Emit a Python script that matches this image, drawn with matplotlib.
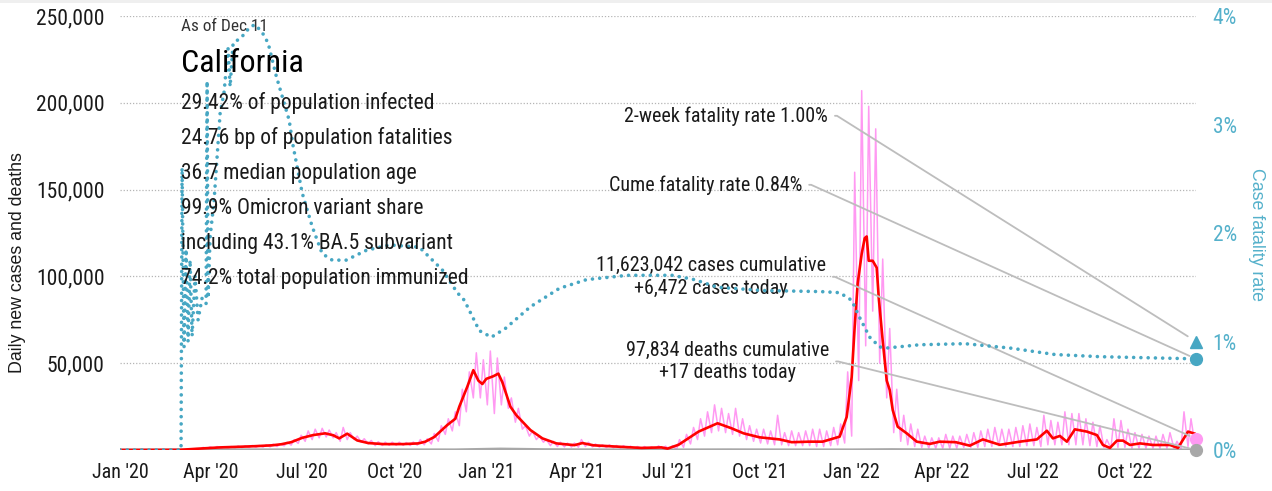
import matplotlib
matplotlib.use("Agg")

import matplotlib.pyplot as plt
import matplotlib.dates as mdates
import pandas as pd
from matplotlib import font_manager
from matplotlib.patches import Rectangle
from matplotlib.ticker import FuncFormatter, MultipleLocator


# ----------------------------
# Data
# ----------------------------
START_DATE = "2020-01-01"
END_DATE = "2022-12-11"

# 7-day average of new cases, thousands
AVG_DATES = [
    "2020-01-01", "2020-03-01", "2020-03-20", "2020-04-10", "2020-05-01", "2020-05-15",
    "2020-06-01", "2020-06-10", "2020-06-20", "2020-07-01", "2020-07-12", "2020-07-24",
    "2020-08-01", "2020-08-07", "2020-08-15", "2020-08-25", "2020-09-05", "2020-09-20",
    "2020-10-10", "2020-10-25", "2020-11-01", "2020-11-10", "2020-11-23", "2020-12-01",
    "2020-12-05", "2020-12-13", "2020-12-19", "2020-12-24", "2020-12-28", "2021-01-01",
    "2021-01-08", "2021-01-13", "2021-01-17", "2021-01-25", "2021-01-31", "2021-02-14",
    "2021-02-26", "2021-03-12", "2021-03-30", "2021-04-07", "2021-04-18", "2021-05-10",
    "2021-06-05", "2021-06-25", "2021-07-01", "2021-07-12", "2021-08-01", "2021-08-20",
    "2021-09-03", "2021-09-15", "2021-10-01", "2021-10-21", "2021-11-02", "2021-11-20",
    "2021-12-03", "2021-12-20", "2021-12-27", "2022-01-01", "2022-01-04", "2022-01-07",
    "2022-01-11", "2022-01-14", "2022-01-16", "2022-01-18", "2022-01-22", "2022-01-26",
    "2022-01-28", "2022-02-01", "2022-02-05", "2022-02-08", "2022-02-11", "2022-02-16",
    "2022-02-25", "2022-03-07", "2022-03-20", "2022-03-30", "2022-04-15", "2022-04-29",
    "2022-05-12", "2022-05-29", "2022-06-18", "2022-07-05", "2022-07-15", "2022-07-21",
    "2022-07-28", "2022-08-04", "2022-08-12", "2022-08-24", "2022-09-03", "2022-09-09",
    "2022-09-16", "2022-09-23", "2022-09-29", "2022-10-06", "2022-10-16", "2022-10-29",
    "2022-11-15", "2022-11-23", "2022-12-03", "2022-12-11",
]
AVG_CASES_K = [
    0.0, 0.1, 0.8, 1.5, 1.9, 2.2,
    2.7, 3.3, 4.5, 7.0, 8.6, 9.6,
    8.5, 6.7, 9.4, 5.5, 4.0, 3.4,
    3.4, 3.8, 4.8, 7.5, 14.4, 18.0,
    25.0, 36.5, 46.0, 40.0, 38.0, 41.0,
    42.5, 44.0, 39.0, 25.0, 20.0, 11.5,
    6.7, 3.8, 2.8, 4.0, 2.7, 2.0,
    1.2, 1.5, 0.8, 3.0, 10.6, 15.4,
    12.5, 9.6, 7.3, 6.1, 4.5, 4.8,
    4.8, 7.7, 19.0, 42.0, 71.0, 96.0,
    113.0, 122.0, 123.0, 109.0, 109.0, 105.0,
    88.0, 63.0, 40.0, 34.6, 23.0, 13.4,
    9.6, 4.8, 3.5, 4.8, 4.5, 2.5,
    6.1, 3.0, 4.8, 6.1, 11.1, 6.7,
    8.1, 4.8, 11.9, 10.6, 8.6, 2.9,
    1.2, 5.4, 5.4, 2.9, 3.8, 2.9,
    2.9, 1.2, 10.6, 9.2,
]

# daily new cases, weekly reporting swing (thousands), one value per week from 2020-03-02
DAILY_WEEK_START = "2020-03-02"
DAILY_HIGH_K = [
    0.1, 0.3, 0.8, 1.5, 1.8,            # Mar 2020
    2.0, 1.9, 2.0, 2.3,                 # Apr
    2.4, 2.6, 2.6, 3.0,                 # May
    3.4, 3.6, 4.5, 6.0, 8.5,            # Jun
    11, 12, 12.5, 11.5,                 # Jul
    10, 13, 10, 8, 6.5,                 # Aug
    5.5, 4.8, 4.5, 4.5,                 # Sep
    4.5, 4.3, 4.6, 6.0,                 # Oct
    6.5, 9.5, 14, 18, 22,               # Nov
    35, 45, 56, 52,                     # Dec
    57, 53, 42, 30,                     # Jan 2021
    24, 14, 11, 8,                      # Feb
    6, 5, 4.5, 4, 4,                    # Mar
    6, 4.5, 3.5, 3,                     # Apr
    3, 2.6, 2.5, 2.2, 2,                # May
    2, 1.8, 2.4, 2.2,                   # Jun
    2.5, 6, 9, 13,                      # Jul
    18, 22, 26, 24, 21,                 # Aug
    24, 18, 14, 12,                     # Sep
    12, 11, 20, 10,                     # Oct
    11, 10, 11, 12, 12,                 # Nov
    11, 13, 15, 45,                     # Dec
    160, 207, 198, 185, 110,            # Jan 2022
    70, 35, 20, 15,                     # Feb
    12, 8, 7, 7,                        # Mar
    9, 8, 8, 9,                         # Apr
    10, 11, 12, 13, 12,                 # May
    12, 13, 14, 15,                     # Jun
    13, 20, 17, 16,                     # Jul
    22, 21, 21, 18, 16,                 # Aug
    14, 6, 18, 17,                      # Sep
    12, 10, 9, 8, 8,                    # Oct
    9, 10, 5, 22,                       # Nov
    18,                                 # Dec
]
DAILY_LOW_K = [
    0.0, 0.1, 0.4, 0.9, 1.0,
    1.0, 1.1, 1.2, 1.3,
    1.4, 1.6, 1.7, 1.8,
    2.0, 2.4, 2.8, 3.8, 5.0,
    6, 7, 7.5, 7,
    5, 6, 6, 4.5, 3.5,
    2.5, 2.6, 2.7, 2.7,
    2.7, 2.6, 2.8, 3.0,
    3.5, 5, 9, 11, 14,
    22, 30, 30, 26,
    21, 26, 24, 16,
    12, 8, 6, 4.5,
    2.5, 2, 1.8, 1.7, 1.6,
    2, 1.8, 1.6, 1.4,
    1.2, 1.1, 1, 0.9, 0.7,
    0.6, 0.6, 0.7, 0.4,
    0.3, 1.5, 3.5, 6,
    8, 10, 11, 10, 9,
    8, 6, 5, 4,
    3.5, 3, 3, 2.5,
    2.5, 2.5, 2.5, 2, 2,
    2.5, 3, 4, 8,
    40, 60, 80, 50, 30,
    10, 5, 3, 2,
    1.5, 1, 1, 1,
    1, 1, 1.5, 1.5,
    1.5, 2, 2, 2.5, 2,
    2, 2, 2.5, 2.5,
    2, 3, 3, 3,
    3, 3, 3, 2.5, 2,
    1.5, 1, 1.5, 1.5,
    1, 1, 1, 1, 1,
    1, 1, 0.5, 2,
    3,
]
CASES_TODAY = 6472

# daily deaths
DEATH_DATES = [
    "2020-01-01", "2020-03-15", "2020-04-20", "2020-06-01", "2020-07-30", "2020-10-15",
    "2020-12-01", "2021-01-15", "2021-03-01", "2021-05-01", "2021-07-01", "2021-09-01",
    "2021-11-01", "2022-01-01", "2022-02-10", "2022-04-01", "2022-07-15", "2022-10-01",
    "2022-12-11",
]
DEATHS = [0, 5, 85, 70, 135, 60, 50, 520, 180, 40, 20, 100, 40, 40, 200, 40, 40, 35, 17]
DEATHS_TODAY = 17

# case fatality rate, percent
CFR_DATES = [
    "2020-01-01", "2020-03-02", "2020-03-03", "2020-03-05", "2020-03-07", "2020-03-09",
    "2020-03-11", "2020-03-13", "2020-03-16", "2020-03-19", "2020-03-23", "2020-03-27",
    "2020-03-28", "2020-03-29", "2020-03-31", "2020-04-04", "2020-04-10", "2020-04-14",
    "2020-04-18", "2020-04-20", "2020-04-23", "2020-05-01", "2020-05-10", "2020-05-15",
    "2020-05-22", "2020-05-28", "2020-06-05", "2020-06-18", "2020-06-22", "2020-07-01",
    "2020-07-11", "2020-07-21", "2020-07-31", "2020-08-14", "2020-09-03", "2020-09-26",
    "2020-10-26", "2020-11-18", "2020-12-03", "2020-12-10", "2020-12-25", "2021-01-06",
    "2021-01-20", "2021-02-14", "2021-03-15", "2021-04-11", "2021-05-22", "2021-07-06",
    "2021-07-28", "2021-08-20", "2021-10-04", "2021-12-01", "2021-12-20", "2022-01-01",
    "2022-01-09", "2022-01-19", "2022-01-29", "2022-02-05", "2022-03-10", "2022-04-24",
    "2022-06-08", "2022-07-23", "2022-09-06", "2022-12-11",
]
CFR_PCT = [
    0.0, 0.0, 2.6, 0.95, 1.85, 1.0,
    1.75, 1.05, 1.6, 1.2, 1.4, 1.35,
    3.4, 1.4, 1.96, 2.3, 3.1, 3.3,
    3.7, 3.35, 3.75, 3.8, 3.9, 3.92,
    3.85, 3.75, 3.45, 3.04, 2.8, 2.37,
    2.06, 1.81, 1.75, 1.75, 1.84, 1.89,
    1.87, 1.66, 1.45, 1.38, 1.1, 1.04,
    1.12, 1.32, 1.49, 1.57, 1.61, 1.61,
    1.57, 1.50, 1.47, 1.46, 1.45, 1.38,
    1.22, 1.04, 0.95, 0.94, 0.97, 0.98,
    0.94, 0.88, 0.86, 0.84,
]
TWO_WEEK_CFR = 1.00
CUME_CFR = 0.84

INFO_LINES = [
    "29.42% of population infected",
    "24.76 bp of population fatalities",
    "36.7 median population age",
    "99.9% Omicron variant share",
    "including 43.1% BA.5 subvariant",
    "74.2% total population immunized",
]

# ----------------------------
# Style
# ----------------------------
TEAL = "#47a7c3"
TEAL_TEXT = "#55b1cb"
PINK = "#ff99f2"
RED = "#ff0000"
GRAY = "#a8a8a8"
LEADER = "#bdbdbd"
INK = "#1a1a1a"


def pick_narrow_font() -> str:
    names = {f.name for f in font_manager.fontManager.ttflist}
    for name in ["Liberation Sans Narrow", "Roboto Condensed", "DejaVu Sans"]:
        if name in names:
            return name
    return "DejaVu Sans"


def main() -> None:
    narrow = pick_narrow_font()
    plt.rcParams["font.family"] = narrow
    plt.rcParams["font.stretch"] = "condensed"

    end = pd.Timestamp(END_DATE)

    # weekly swing -> zigzag for the daily series
    weeks = pd.date_range(DAILY_WEEK_START, periods=len(DAILY_HIGH_K), freq="7D")
    daily_x, daily_y = [], []
    for wk, hi, lo in zip(weeks, DAILY_HIGH_K, DAILY_LOW_K):
        daily_x += [wk + pd.Timedelta(days=1), wk + pd.Timedelta(days=5)]
        daily_y += [hi * 1000, lo * 1000]
    daily_x.append(end)
    daily_y.append(CASES_TODAY)

    avg_x = pd.to_datetime(AVG_DATES)
    avg_y = [v * 1000 for v in AVG_CASES_K]

    fig = plt.figure(figsize=(12.72, 4.91), dpi=100)
    fig.patch.set_facecolor("white")
    fig.add_artist(Rectangle((0, 1 - 3 / 491), 1, 3 / 491, transform=fig.transFigure,
                             facecolor="#efefef", edgecolor="none"))

    ax = fig.add_axes([120 / 1272, 41 / 491, 1076 / 1272, 434 / 491])
    ax2 = ax.twinx()

    ax.set_xlim(pd.Timestamp(START_DATE), end)
    ax.set_ylim(0, 250000)
    ax2.set_ylim(0, 4)

    for a in (ax, ax2):
        for sp in a.spines.values():
            sp.set_visible(False)

    ax.yaxis.set_major_locator(MultipleLocator(50000))
    ax.yaxis.set_major_formatter(FuncFormatter(lambda v, _: f"{int(v):,}" if v > 0 else ""))
    ax.grid(axis="y", color="#b5b5b5", linestyle=(0, (1, 1.5)), linewidth=0.9)
    ax.set_axisbelow(True)
    ax.tick_params(axis="y", length=0, pad=11, labelsize=15.5, labelcolor=INK)

    ax.xaxis.set_major_locator(mdates.MonthLocator(bymonth=[1, 4, 7, 10]))
    ax.xaxis.set_major_formatter(mdates.DateFormatter("%b '%y"))
    ax.tick_params(axis="x", length=0, pad=9, labelsize=14.5, labelcolor=INK)

    ax2.yaxis.set_major_locator(MultipleLocator(1))
    ax2.yaxis.set_major_formatter(FuncFormatter(lambda v, _: f"{int(v)}%"))
    ax2.tick_params(axis="y", length=0, pad=12, labelsize=15.5, labelcolor=TEAL_TEXT)

    # series
    ax.plot(daily_x, daily_y, color=PINK, lw=1.1, zorder=2)
    ax.plot(pd.to_datetime(DEATH_DATES), DEATHS, color=GRAY, lw=2.2, zorder=2)
    ax.plot(avg_x, avg_y, color=RED, lw=1.9, zorder=3)
    ax2.plot(pd.to_datetime(CFR_DATES), CFR_PCT, color=TEAL, lw=2.6,
             linestyle=(0, (0.01, 2.0)), dash_capstyle="round", zorder=3)

    # end markers
    ax.plot([end], [CASES_TODAY], "o", ms=8.5, color=PINK, clip_on=False, zorder=5)
    ax.plot([end], [DEATHS_TODAY], "o", ms=8.5, color=GRAY, clip_on=False, zorder=5)
    ax2.plot([end], [CUME_CFR], "o", ms=8.5, color=TEAL, clip_on=False, zorder=5)
    ax2.plot([end], [TWO_WEEK_CFR], "^", ms=9, color=TEAL, clip_on=False, zorder=5)

    # leader-line annotations
    conn = "arc,angleA=0,armA=9,angleB=0,armB=0,rad=0"
    notes = [
        (ax2, f"2-week fatality rate {TWO_WEEK_CFR:.2f}%", TWO_WEEK_CFR, (0.658, 0.770), 7),
        (ax2, f"Cume fatality rate {CUME_CFR:.2f}%", CUME_CFR, (0.634, 0.611), 5),
        (ax, f"11,623,042 cases cumulative\n+{CASES_TODAY:,} cases today", CASES_TODAY, (0.656, 0.399), 5),
        (ax, f"97,834 deaths cumulative\n+{DEATHS_TODAY} deaths today", DEATHS_TODAY, (0.659, 0.204), 5),
    ]
    for a, text, yval, pos, shrink in notes:
        a.annotate(text, xy=(end, yval), xycoords="data", xytext=pos, textcoords="axes fraction",
                   ha="right", va="center", multialignment="center", fontsize=14.5, color=INK,
                   linespacing=1.25, annotation_clip=False, zorder=6,
                   arrowprops=dict(arrowstyle="-", color=LEADER, lw=1.3, shrinkA=3, shrinkB=shrink,
                                   relpos=(1, 0.5), connectionstyle=conn))

    # title block
    x0 = 181 / 1272
    fig.text(x0, 1 - 31 / 491, "As of Dec 11", fontsize=12.4, color="#333333")
    fig.text(x0, 1 - 72 / 491, "California", fontsize=23, color="black")
    for i, line in enumerate(INFO_LINES):
        fig.text(x0, 1 - (109 + 35 * i) / 491, line, fontsize=15.5, color=INK)

    # axis titles (regular width)
    fig.text(18 / 1272, 1 - 263 / 491, "Daily new cases and deaths", rotation=90,
             ha="center", va="center", fontsize=12.8, color=INK,
             family="Liberation Sans", stretch="normal")
    fig.text(1257 / 1272, 1 - 234 / 491, "Case fatality rate", rotation=270,
             ha="center", va="center", fontsize=12.8, color=TEAL_TEXT,
             family="Liberation Sans", stretch="normal")

    fig.savefig("out.png", dpi=100, facecolor="white")
    plt.close(fig)


if __name__ == "__main__":
    main()
